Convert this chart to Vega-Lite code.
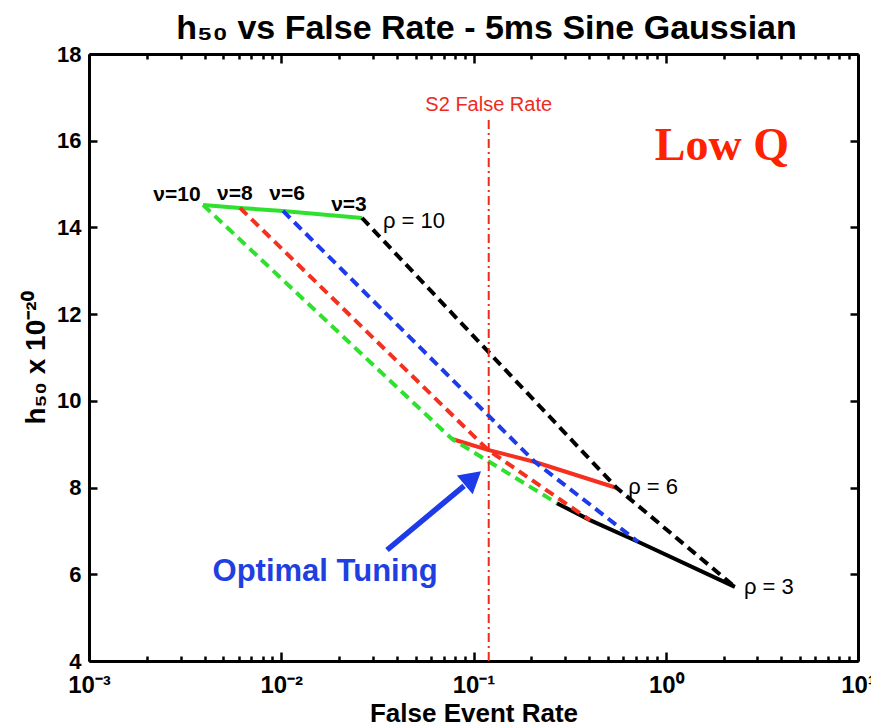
{
  "$schema": "https://vega.github.io/schema/vega-lite/v6.json",
  "width": 769,
  "height": 607,
  "autosize": {"type": "none"},
  "padding": {"left": 89, "top": 54, "right": 13, "bottom": 67},
  "background": "white",
  "config": {"view": {"stroke": null}, "font": "Liberation Sans"},
  "title": {
    "text": "h₅₀ vs False Rate - 5ms Sine Gaussian",
    "font": "Liberation Sans",
    "fontSize": 34,
    "fontWeight": "bold",
    "color": "black",
    "anchor": "middle",
    "baseline": "alphabetic",
    "offset": -30,
    "dx": 13
  },
  "datasets": {
    "pts": [
      {"nu": 10, "rho": 10, "rate": 0.00392, "h50": 14.52},
      {"nu": 8, "rho": 10, "rate": 0.0061, "h50": 14.45},
      {"nu": 6, "rho": 10, "rate": 0.01021, "h50": 14.38},
      {"nu": 3, "rho": 10, "rate": 0.0263, "h50": 14.22},
      {"nu": 10, "rho": 6, "rate": 0.0773, "h50": 9.12},
      {"nu": 8, "rho": 6, "rate": 0.1189, "h50": 8.87},
      {"nu": 6, "rho": 6, "rate": 0.2089, "h50": 8.59},
      {"nu": 3, "rho": 6, "rate": 0.557, "h50": 7.99},
      {"nu": 10, "rho": 3, "rate": 0.2716, "h50": 7.64},
      {"nu": 8, "rho": 3, "rate": 0.4036, "h50": 7.25},
      {"nu": 6, "rho": 3, "rate": 0.7178, "h50": 6.75},
      {"nu": 3, "rho": 3, "rate": 2.29, "h50": 5.71}
    ]
  },
  "layer": [
    {
      "data": {"name": "pts"},
      "mark": {"type": "line", "strokeWidth": 4},
      "encoding": {
        "x": {
          "field": "rate", "type": "quantitative",
          "scale": {"type": "log", "domain": [0.001, 10], "nice": false},
          "axis": {
            "orient": "bottom",
            "values": [0.001,0.002,0.003,0.004,0.005,0.006,0.007,0.008,0.009,0.01,0.02,0.03,0.04,0.05,0.06,0.07,0.08,0.09,0.1,0.2,0.3,0.4,0.5,0.6,0.7,0.8,0.9,1,2,3,4,5,6,7,8,9,10],
            "labelExpr": "abs(log(datum.value)/LN10 - round(log(datum.value)/LN10)) < 0.001 ? '10' + ['⁻³','⁻²','⁻¹','⁰','¹'][round(log(datum.value)/LN10) + 3] : ''",
            "tickSize": {"condition": {"test": "abs(log(datum.value)/LN10 - round(log(datum.value)/LN10)) < 0.001", "value": -9}, "value": -5},
            "tickWidth": 2.5,
            "tickColor": "black",
            "domainColor": "black",
            "domainWidth": 3,
            "grid": false,
            "labelFont": "Liberation Sans",
            "labelFontSize": 24,
            "labelFontWeight": "bold",
            "labelColor": "black",
            "labelPadding": 21,
            "labelFlush": false,
            "labelOverlap": false,
            "title": "False Event Rate",
            "titleFont": "Liberation Sans",
            "titleFontSize": 26,
            "titleFontWeight": "bold",
            "titleColor": "black",
            "titlePadding": -1
          }
        },
        "y": {
          "field": "h50", "type": "quantitative",
          "scale": {"domain": [4, 18], "nice": false, "zero": false},
          "axis": {
            "orient": "left",
            "values": [4, 6, 8, 10, 12, 14, 16, 18],
            "tickSize": -8,
            "tickWidth": 2.5,
            "tickColor": "black",
            "domainColor": "black",
            "domainWidth": 3,
            "grid": false,
            "labelFont": "Liberation Sans",
            "labelFontSize": 22,
            "labelFontWeight": "bold",
            "labelColor": "black",
            "labelPadding": 16,
            "labelFlush": false,
            "labelOverlap": false,
            "title": "h₅₀ x 10⁻²⁰",
            "titleFont": "Liberation Sans",
            "titleFontSize": 28,
            "titleFontWeight": "bold",
            "titleColor": "black",
            "titlePadding": 6
          }
        },
        "color": {
          "field": "rho", "type": "nominal",
          "scale": {"domain": [10, 6, 3], "range": ["#2fe02f", "#f5301e", "#000000"]},
          "legend": null
        }
      }
    },
    {
      "data": {"name": "pts"},
      "mark": {"type": "line", "strokeWidth": 4, "strokeDash": [10, 6]},
      "encoding": {
        "x": {
          "field": "rate", "type": "quantitative",
          "scale": {"type": "log", "domain": [0.001, 10], "nice": false},
          "axis": {
            "orient": "top",
            "values": [0.001,0.002,0.003,0.004,0.005,0.006,0.007,0.008,0.009,0.01,0.02,0.03,0.04,0.05,0.06,0.07,0.08,0.09,0.1,0.2,0.3,0.4,0.5,0.6,0.7,0.8,0.9,1,2,3,4,5,6,7,8,9,10],
            "labels": false,
            "tickSize": {"condition": {"test": "abs(log(datum.value)/LN10 - round(log(datum.value)/LN10)) < 0.001", "value": -9}, "value": -5},
            "tickWidth": 2.5,
            "tickColor": "black",
            "domainColor": "black",
            "domainWidth": 3,
            "grid": false,
            "title": null
          }
        },
        "y": {
          "field": "h50", "type": "quantitative",
          "scale": {"domain": [4, 18], "nice": false, "zero": false},
          "axis": {
            "orient": "right",
            "values": [4, 6, 8, 10, 12, 14, 16, 18],
            "labels": false,
            "tickSize": -8,
            "tickWidth": 2.5,
            "tickColor": "black",
            "domainColor": "black",
            "domainWidth": 3,
            "grid": false,
            "title": null
          }
        },
        "color": {
          "field": "nu", "type": "nominal",
          "scale": {"domain": [10, 8, 6, 3], "range": ["#2fe02f", "#f5301e", "#1d3be8", "#000000"]},
          "legend": null
        }
      }
    },
    {
      "data": {"values": [{"x": 0.12, "y": 4, "y2": 16.52}]},
      "mark": {"type": "rule", "color": "#ee2a1e", "strokeWidth": 2, "strokeDash": [9, 4, 2, 4]},
      "encoding": {
        "x": {"field": "x", "type": "quantitative", "axis": null},
        "y": {"field": "y", "type": "quantitative", "axis": null},
        "y2": {"field": "y2"}
      }
    },
    {
      "data": {"values": [{"x": 0.0355, "y": 6.56, "x2": 0.0893, "y2": 8.04}]},
      "mark": {"type": "rule", "color": "#1d3be8", "strokeWidth": 5.5},
      "encoding": {
        "x": {"field": "x", "type": "quantitative", "axis": null},
        "y": {"field": "y", "type": "quantitative", "axis": null},
        "x2": {"field": "x2"},
        "y2": {"field": "y2"}
      }
    },
    {
      "data": {"values": [{"x": 0.0993, "y": 8.22}]},
      "mark": {"type": "point", "shape": "triangle-up", "filled": true, "size": 600, "angle": 50, "color": "#1d3be8", "opacity": 1},
      "encoding": {
        "x": {"field": "x", "type": "quantitative", "axis": null},
        "y": {"field": "y", "type": "quantitative", "axis": null}
      }
    },
    {
      "data": {"values": [
        {"label": "ν=10", "x": 0.00287, "y": 14.75},
        {"label": "ν=8", "x": 0.00574, "y": 14.77},
        {"label": "ν=6", "x": 0.01072, "y": 14.77},
        {"label": "ν=3", "x": 0.0225, "y": 14.52}
      ]},
      "mark": {"type": "text", "font": "Liberation Sans", "fontSize": 21, "fontWeight": "bold", "color": "black", "align": "center", "baseline": "middle"},
      "encoding": {
        "x": {"field": "x", "type": "quantitative", "axis": null},
        "y": {"field": "y", "type": "quantitative", "axis": null},
        "text": {"field": "label"}
      }
    },
    {
      "data": {"values": [
        {"label": "ρ = 10", "x": 0.049, "y": 14.15},
        {"label": "ρ = 6", "x": 0.859, "y": 8.01},
        {"label": "ρ = 3", "x": 3.44, "y": 5.71}
      ]},
      "mark": {"type": "text", "font": "Liberation Sans", "fontSize": 22, "color": "black", "align": "center", "baseline": "middle"},
      "encoding": {
        "x": {"field": "x", "type": "quantitative", "axis": null},
        "y": {"field": "y", "type": "quantitative", "axis": null},
        "text": {"field": "label"}
      }
    },
    {
      "data": {"values": [{"label": "Low Q", "x": 1.96, "y": 15.87}]},
      "mark": {"type": "text", "font": "Liberation Serif", "fontSize": 46, "fontWeight": "bold", "color": "#ff2200", "align": "center", "baseline": "middle"},
      "encoding": {
        "x": {"field": "x", "type": "quantitative", "axis": null},
        "y": {"field": "y", "type": "quantitative", "axis": null},
        "text": {"field": "label"}
      }
    },
    {
      "data": {"values": [{"label": "S2 False Rate", "x": 0.12, "y": 16.82}]},
      "mark": {"type": "text", "font": "Liberation Sans", "fontSize": 20, "color": "#ee2a1e", "align": "center", "baseline": "middle"},
      "encoding": {
        "x": {"field": "x", "type": "quantitative", "axis": null},
        "y": {"field": "y", "type": "quantitative", "axis": null},
        "text": {"field": "label"}
      }
    },
    {
      "data": {"values": [{"label": "Optimal Tuning", "x": 0.0169, "y": 6.05}]},
      "mark": {"type": "text", "font": "Liberation Sans", "fontSize": 31, "fontWeight": "bold", "color": "#1f3fe0", "align": "center", "baseline": "middle"},
      "encoding": {
        "x": {"field": "x", "type": "quantitative", "axis": null},
        "y": {"field": "y", "type": "quantitative", "axis": null},
        "text": {"field": "label"}
      }
    }
  ],
  "resolve": {
    "scale": {"color": "independent"},
    "axis": {"x": "independent", "y": "independent"}
  }
}
